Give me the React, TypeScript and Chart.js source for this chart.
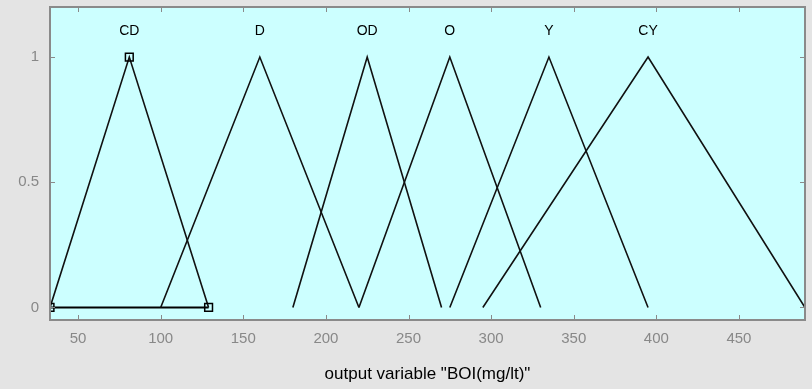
import React, { useEffect, useRef } from "react";
import { Chart, registerables } from "chart.js";

Chart.register(...registerables);

const mfNames = ["CD", "D", "OD", "O", "Y", "CY"];
const mfParams: number[][] = [
  [33, 81, 129],
  [100, 160, 220],
  [180, 225, 270],
  [220, 275, 330],
  [275, 335, 395],
  [295, 395, 490],
];
const xTicks = [50, 100, 150, 200, 250, 300, 350, 400, 450];
const yTicks = [0, 0.5, 1];
const xRange = [33, 490];
const yRange = [-0.05, 1.2];
const xTitle = 'output variable "BOI(mg/lt)"';
const selectedIndex = 0;

const FONT = "Arial, 'Liberation Sans', sans-serif";

export default function App() {
  const ref = useRef<HTMLCanvasElement | null>(null);

  useEffect(() => {
    document.body.style.margin = "0";
    const canvas = ref.current;
    if (!canvas) return;

    const datasets: any[] = mfParams.map((p, i) => ({
      label: mfNames[i],
      data: [
        { x: p[0], y: 0 },
        { x: p[1], y: 1 },
        { x: p[2], y: 0 },
      ],
      showLine: true,
      borderColor: "#111",
      borderWidth: 1.6,
      pointRadius: i === selectedIndex ? 5.5 : 0,
      pointStyle: "rect",
      pointBorderColor: "#000",
      pointBorderWidth: 1.5,
      pointBackgroundColor: "rgba(0,0,0,0)",
      order: 1,
    }));
    const sel = mfParams[selectedIndex];
    datasets.push({
      label: "support",
      data: [
        { x: sel[0], y: 0 },
        { x: sel[2], y: 0 },
      ],
      showLine: true,
      borderColor: "#000",
      borderWidth: 2,
      pointRadius: 0,
      order: 2,
    });

    const decor = {
      id: "decor",
      beforeDraw(chart: any) {
        const { ctx, chartArea: a } = chart;
        ctx.save();
        ctx.fillStyle = "#e4e4e4";
        ctx.fillRect(0, 0, chart.width, chart.height);
        ctx.fillStyle = "#ccffff";
        ctx.fillRect(a.left, a.top, a.right - a.left, a.bottom - a.top);
        ctx.restore();
      },
      afterDatasetsDraw(chart: any) {
        const { ctx, chartArea: a, scales } = chart;
        const xs = scales.x;
        const ys = scales.y;
        ctx.save();
        ctx.strokeStyle = "#8a8a8a";
        ctx.lineWidth = 1;
        ctx.beginPath();
        xTicks.forEach((v) => {
          const px = Math.round(xs.getPixelForValue(v)) + 0.5;
          ctx.moveTo(px, a.bottom);
          ctx.lineTo(px, a.bottom - 5);
          ctx.moveTo(px, a.top);
          ctx.lineTo(px, a.top + 5);
        });
        yTicks.forEach((v) => {
          const py = Math.round(ys.getPixelForValue(v)) + 0.5;
          ctx.moveTo(a.left, py);
          ctx.lineTo(a.left + 5, py);
          ctx.moveTo(a.right, py);
          ctx.lineTo(a.right - 5, py);
        });
        ctx.stroke();
        ctx.lineWidth = 2;
        ctx.strokeStyle = "#8a8a8a";
        ctx.strokeRect(a.left, a.top, a.right - a.left, a.bottom - a.top);
        ctx.fillStyle = "#000";
        ctx.font = `14px ${FONT}`;
        ctx.textAlign = "center";
        ctx.textBaseline = "middle";
        mfNames.forEach((n, i) => {
          ctx.fillText(n, xs.getPixelForValue(mfParams[i][1]), ys.getPixelForValue(1.105));
        });
        ctx.restore();
      },
    };

    const chart = new Chart(canvas, {
      type: "scatter",
      data: { datasets },
      options: {
        animation: false,
        responsive: false,
        layout: { padding: { top: 5, right: 7, left: 0, bottom: 0 } },
        plugins: { legend: { display: false }, tooltip: { enabled: false } },
        scales: {
          x: {
            type: "linear",
            min: xRange[0],
            max: xRange[1],
            grid: { display: false, drawTicks: false },
            border: { display: false },
            afterBuildTicks: (s: any) => {
              s.ticks = xTicks.map((v) => ({ value: v }));
            },
            afterFit: (s: any) => {
              s.height = 69;
              s.paddingLeft = 0;
              s.paddingRight = 0;
            },
            ticks: {
              color: "#888",
              padding: 10,
              font: { family: FONT, size: 15 },
              maxRotation: 0,
              callback: (v: any) => String(v),
            },
            title: {
              display: true,
              text: xTitle,
              color: "#000",
              font: { family: FONT, size: 17 },
              padding: { top: 0, bottom: 4 },
            },
          },
          y: {
            type: "linear",
            min: yRange[0],
            max: yRange[1],
            grid: { display: false, drawTicks: false },
            border: { display: false },
            afterBuildTicks: (s: any) => {
              s.ticks = yTicks.map((v) => ({ value: v }));
            },
            afterFit: (s: any) => {
              s.width = 50;
              s.paddingTop = 0;
              s.paddingBottom = 0;
            },
            ticks: {
              color: "#888",
              padding: 11,
              font: { family: FONT, size: 15 },
              callback: (v: any) => String(v),
            },
          },
        },
      },
      plugins: [decor],
    });

    return () => chart.destroy();
  }, []);

  return (
    <canvas
      ref={ref}
      width={812}
      height={389}
      style={{ display: "block", width: 812, height: 389 }}
    />
  );
}
